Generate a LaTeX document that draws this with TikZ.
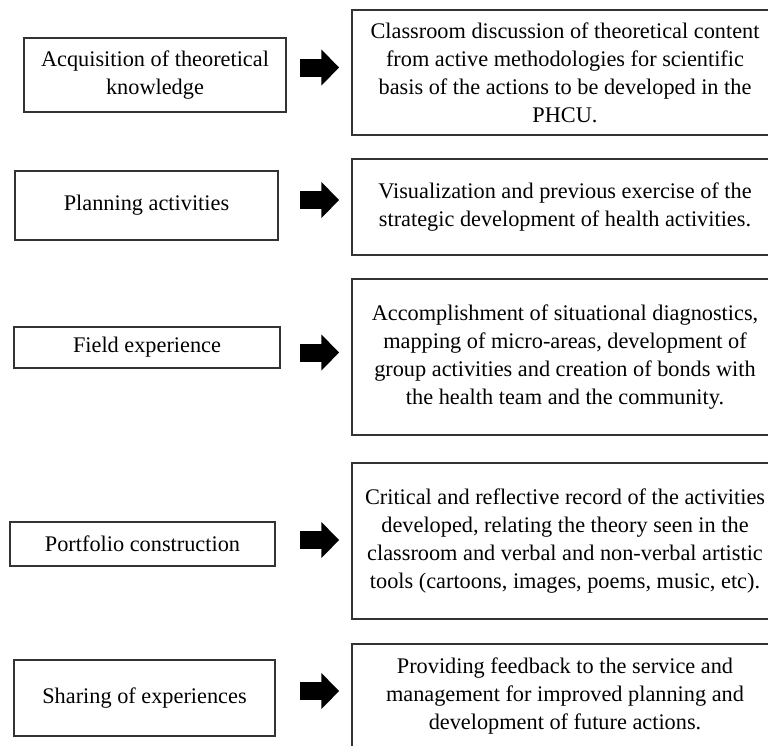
\documentclass[tikz,border=0pt]{standalone}
\usepackage{fontspec}
\setmainfont{Liberation Serif}
\usetikzlibrary{arrows.meta}

\begin{document}
\begin{tikzpicture}[
		x=1pt,y=-1pt,
		stagebox/.style={draw=black!80,line width=1.5pt,align=center,inner sep=0pt,font=\fontsize{22.3}{28}\selectfont},
		descbox/.style={stagebox,minimum width=426pt},
		bigarrow/.style={line width=18pt,-{Triangle[width=35pt,length=18pt]},shorten >=12pt}
		]
		\useasboundingbox (0,0) rectangle (768,745);
		\clip (0,0) rectangle (768,745);
		% stages
		\node[stagebox,minimum width=262pt,minimum height=74pt] (know) at (155,75) {Acquisition of theoretical\\knowledge};
		\node[stagebox,minimum width=263pt,minimum height=69pt] (plan) at (146.5,205.5) {Planning activities};
		\node[stagebox,minimum width=266pt,minimum height=41pt] (field) at (147,347.5) {Field experience};
		\node[stagebox,minimum width=265pt,minimum height=44pt] (port) at (142.5,544) {Portfolio construction};
		\node[stagebox,minimum width=261pt,minimum height=76pt] (share) at (144.5,698) {Sharing of experiences};
		% descriptions
		\node[descbox,minimum height=125pt] (knowtxt) at (565,72.5) {Classroom discussion of theoretical content\\from active methodologies for scientific\\basis of the actions to be developed in the\\PHCU.};
		\node[descbox,minimum height=96pt] (plantxt) at (565,207) {Visualization and previous exercise of the\\strategic development of health activities.};
		\node[descbox,minimum height=156pt] (fieldtxt) at (565,357) {Accomplishment of situational diagnostics,\\mapping of micro-areas, development of\\group activities and creation of bonds with\\the health team and the community.};
		\node[descbox,minimum height=156pt] (porttxt) at (565,541) {Critical and reflective record of the activities\\developed, relating the theory seen in the\\classroom and verbal and non-verbal artistic\\tools (cartoons, images, poems, music, etc).};
		\node[descbox,minimum height=104pt] (sharetxt) at (565,696) {Providing feedback to the service and\\management for improved planning and\\development of future actions.};
		% arrows
		\coordinate (k0) at (300,67.5);
		\coordinate (p0) at (300,200);
		\coordinate (f0) at (300,352.5);
		\coordinate (r0) at (300,540);
		\coordinate (s0) at (300,691);
		\draw[bigarrow] (k0) -- (k0 -| knowtxt.west);
		\draw[bigarrow] (p0) -- (p0 -| plantxt.west);
		\draw[bigarrow] (f0) -- (f0 -| fieldtxt.west);
		\draw[bigarrow] (r0) -- (r0 -| porttxt.west);
		\draw[bigarrow] (s0) -- (s0 -| sharetxt.west);
\end{tikzpicture}
\end{document}
